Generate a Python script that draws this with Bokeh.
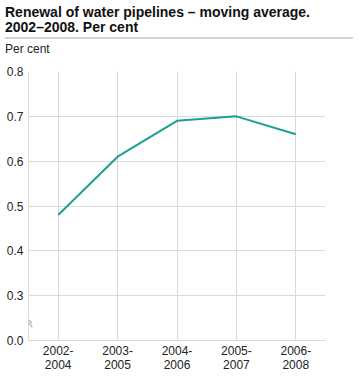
from bokeh.plotting import figure
from bokeh.models import Div, FactorRange, Range1d, FixedTicker, NumeralTickFormatter
from bokeh.layouts import column
from bokeh.embed import file_html
from bokeh.resources import INLINE

# ---- data ----
categories = ["2002-\n2004", "2003-\n2005", "2004-\n2006", "2005-\n2007", "2006-\n2008"]
values = [0.48, 0.61, 0.69, 0.70, 0.66]
y_ticks = [0.2, 0.3, 0.4, 0.5, 0.6, 0.7, 0.8]
y_tick_labels = ["0.0", "0.3", "0.4", "0.5", "0.6", "0.7", "0.8"]
title_lines = ["Renewal of water pipelines \u2013 moving average.", "2002\u20132008. Per cent"]
unit_label = "Per cent"

FONT = "'Liberation Sans', Arial, sans-serif"
GRID = "#d9d9d9"
TEXT = "#222222"
LINE = "#1f9e96"

header = Div(
    width=348, height=52,
    text=(
        f'<div style="width:348px;font-family:{FONT};">'
        f'<div style="font-weight:bold;font-size:14px;line-height:15px;height:32px;color:#111;white-space:nowrap;">'
        f'{title_lines[0]}<br>{title_lines[1]}</div>'
        f'<div style="border-top:2px solid #d2d2d2;height:0;width:348px;"></div>'
        f'<div style="font-size:12px;line-height:14px;padding-top:3px;color:{TEXT};">{unit_label}</div>'
        f'</div>'
    ),
)

p = figure(
    frame_width=297, frame_height=269,
    x_range=FactorRange(factors=categories),
    y_range=Range1d(y_ticks[0], y_ticks[-1]),
    output_backend="svg", toolbar_location=None,
    min_border_left=28, min_border_right=20, min_border_top=9, min_border_bottom=29,
)
p.outline_line_color = None
p.background_fill_color = "white"
p.border_fill_color = "white"

p.xgrid.grid_line_color = GRID
p.ygrid.grid_line_color = GRID
p.ygrid.ticker = FixedTicker(ticks=y_ticks)

p.yaxis.ticker = FixedTicker(ticks=y_ticks)
p.yaxis.formatter = NumeralTickFormatter(format="0.0")
p.yaxis.major_label_overrides = {y_ticks[0]: y_tick_labels[0]}
for ax in (p.xaxis, p.yaxis):
    ax.axis_line_color = GRID
    ax.major_tick_line_color = None
    ax.minor_tick_line_color = None
    ax.major_tick_out = 0
    ax.major_tick_in = 0
    ax.major_label_text_font = "Liberation Sans"
    ax.major_label_text_font_size = "12px"
    ax.major_label_text_color = TEXT
    ax.major_label_text_line_height = 1.0
p.yaxis.major_label_standoff = 5
p.xaxis.major_label_standoff = 3

p.line(x=categories, y=values, line_color=LINE, line_width=2)

# axis break marker (decoration between displayed 0.0 and 0.3)
mid = (y_ticks[0] + y_ticks[1]) / 2
p.segment(
    x0=[(categories[0], -0.565), (categories[0], -0.555)],
    y0=[mid + 0.008, mid - 0.001],
    x1=[(categories[0], -0.445), (categories[0], -0.435)],
    y1=[mid - 0.012, mid - 0.021],
    line_color="#b0b0b0", line_width=1.2,
)

footer = Div(
    width=348, height=2,
    text='<div style="border-top:2px solid #d2d2d2;height:0;width:348px;"></div>',
)

layout = column(header, p, footer, spacing=0)
open("out.html", "w").write(file_html(layout, INLINE))
